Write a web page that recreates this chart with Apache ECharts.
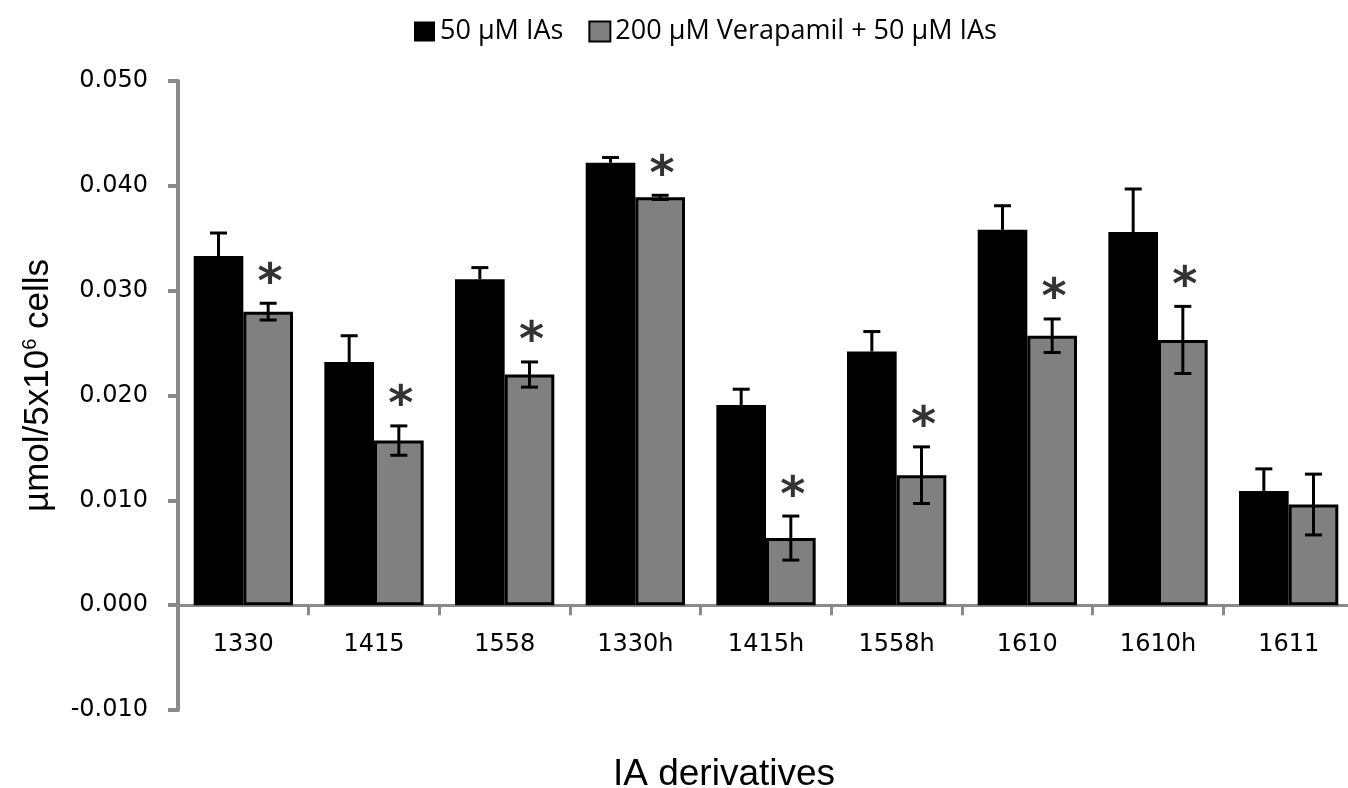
<!DOCTYPE html>
<html><head><meta charset="utf-8">
<script src="https://cdn.jsdelivr.net/npm/echarts@6/dist/echarts.min.js"></script>
<style>html,body{margin:0;padding:0;background:#fff}#c{width:1348px;height:788px}</style>
</head><body><div id="c"></div>
<script>
const categories = ['1330','1415','1558','1330h','1415h','1558h','1610','1610h','1611'];
const seriesNames = ['50 \u00b5M IAs', '200 \u00b5M Verapamil + 50 \u00b5M IAs'];
const iasValues = [0.0333,0.0232,0.0311,0.0422,0.0191,0.0242,0.0358,0.0356,0.0109];
const iasErrors = [0.0022,0.0025,0.0011,0.0005,0.0015,0.0019,0.0023,0.0041,0.0021];
const verValues = [0.0280,0.0157,0.0220,0.0389,0.0064,0.0124,0.0257,0.0253,0.0096];
const verErrors = [0.0008,0.0014,0.0012,0.0002,0.0021,0.0027,0.0016,0.0032,0.0029];
const significant = [1,1,1,1,1,1,1,1,0];
const yMin = -0.010, yMax = 0.050, yStep = 0.010;

const GAP = 0.24;
const chart = echarts.init(document.getElementById('c'), null, {renderer:'canvas'});

function errRender(side, both){
  return function(params, api){
    const i = api.value(0), v = api.value(1), e = api.value(2), star = api.value(3);
    const band = api.size([1,0])[0];
    const bw = band*(1-GAP)/2;
    const base = api.coord([i, v]);
    const x = base[0] + side*bw/2;
    const top = api.coord([i, v+e])[1];
    const bot = both ? api.coord([i, v-e])[1] : base[1];
    const half = 8.5;
    const style = {stroke:'#000', lineWidth:3};
    const children = [
      {type:'line', shape:{x1:x,y1:top,x2:x,y2:bot}, style:style},
      {type:'line', shape:{x1:x-half,y1:top,x2:x+half,y2:top}, style:style}
    ];
    if (both) children.push({type:'line', shape:{x1:x-half,y1:bot,x2:x+half,y2:bot}, style:style});
    if (star) children.push({type:'text', x:x+2, y:top-19, style:{text:'*', fontSize:48, fontWeight:'bold', fontFamily:'DejaVu Sans', fill:'#333', align:'center', verticalAlign:'middle'}});
    return {type:'group', children:children};
  };
}

const option = {
  backgroundColor:'#fff',
  animation:false,
  legend:{
    data:seriesNames,
    left:409, top:13,
    itemWidth:21, itemHeight:20, itemGap:25,
    icon:'rect',
    textStyle:{fontFamily:'Open Sans', fontSize:27, color:'#000'}
  },
  grid:{left:178, top:81, width:1176, bottom:78, containLabel:false, outerBoundsMode:'none'},
  xAxis:{
    type:'category', data:categories,
    axisLine:{onZero:true, lineStyle:{color:'#8a8a8a', width:3}},
    axisTick:{show:true, length:10, lineStyle:{color:'#8a8a8a', width:3}},
    axisLabel:{fontFamily:'DejaVu Sans', fontSize:24, color:'#000', margin:-77},
    name:'IA derivatives', nameLocation:'middle', nameGap:46,
    nameTextStyle:{fontFamily:'Liberation Sans', fontSize:37, color:'#000', padding:[0,84,0,0]}
  },
  yAxis:{
    type:'value', min:yMin, max:yMax, interval:yStep,
    axisLine:{show:true, lineStyle:{color:'#8a8a8a', width:4}},
    axisTick:{show:true, length:10, lineStyle:{color:'#8a8a8a', width:4}},
    splitLine:{show:false},
    axisLabel:{fontFamily:'DejaVu Sans', fontSize:24, color:'#000', margin:30, formatter:v=>v.toFixed(3)},
    name:'{a|\u00b5mol/5x10}{s|6}{a| cells}', nameLocation:'middle', nameGap:122, nameRotate:90,
    nameTextStyle:{fontFamily:'Liberation Sans', fontSize:35, color:'#000', padding:[0,0,0,20],
      rich:{a:{fontFamily:'Liberation Sans', fontSize:35, color:'#000'},
            s:{fontFamily:'Liberation Sans', fontSize:20, color:'#000', verticalAlign:'top', padding:[0,0,16,0]}}}
  },
  series:[
    {name:seriesNames[0], type:'bar', data:iasValues, barGap:'0%', barCategoryGap:(GAP*100)+'%',
      itemStyle:{color:'#000'}},
    {name:seriesNames[1], type:'bar', data:verValues, barGap:'0%', barCategoryGap:(GAP*100)+'%',
      itemStyle:{color:'#808080', borderColor:'#000', borderWidth:3}},
    {type:'custom', renderItem:errRender(-1,false), z:5,
      data:iasValues.map((v,i)=>[i,v,iasErrors[i],0])},
    {type:'custom', renderItem:errRender(1,true), z:5,
      data:verValues.map((v,i)=>[i,v,verErrors[i],significant[i]])}
  ]
};
chart.setOption(option);
</script></body></html>
